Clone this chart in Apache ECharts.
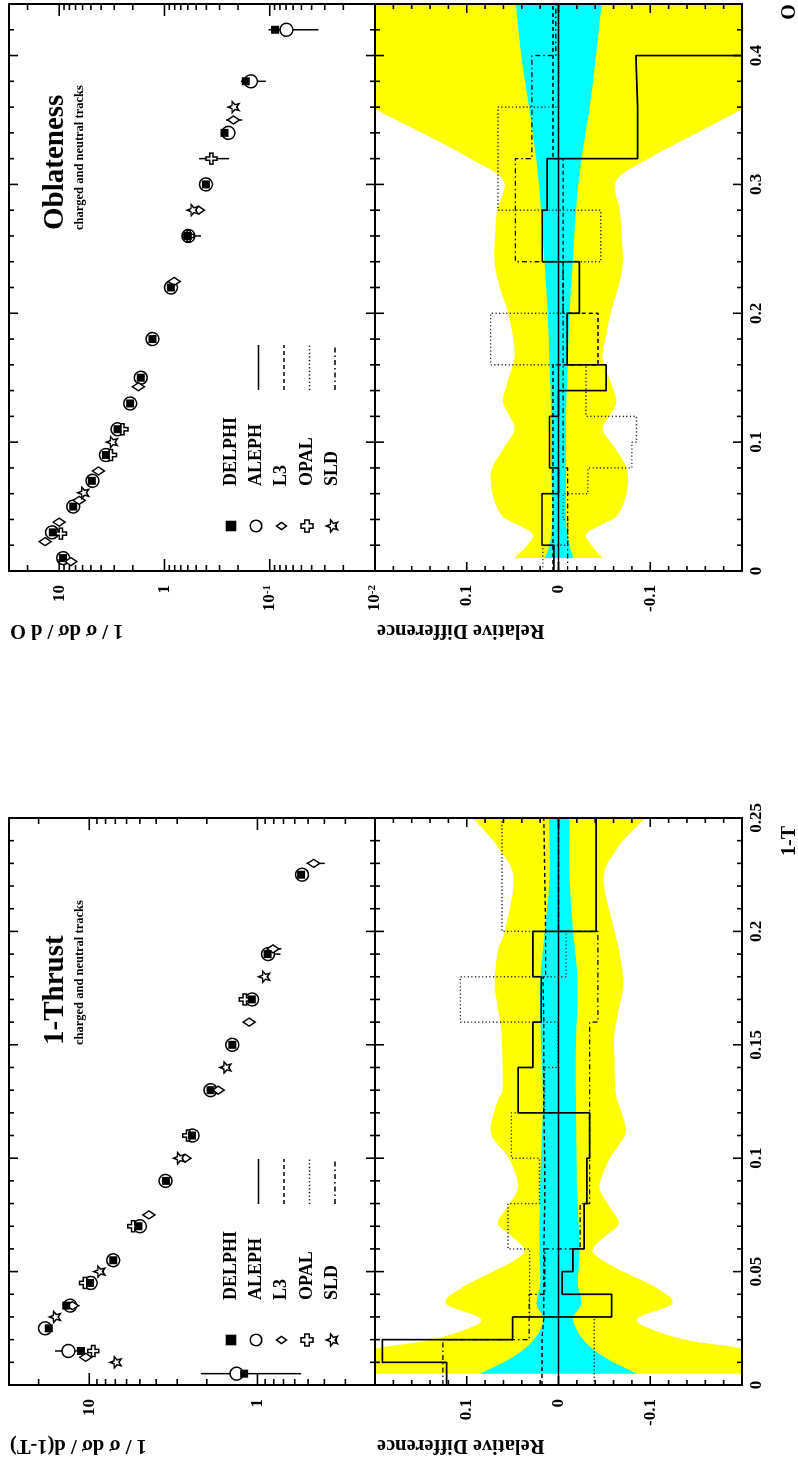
<!DOCTYPE html>
<html>
<head>
<meta charset="utf-8">
<script src="https://cdn.jsdelivr.net/npm/echarts@6/dist/echarts.min.js"></script>
<style>
  html, body { margin: 0; padding: 0; background: #fff; overflow: hidden; }
  #page { position: absolute; left: 0; top: 0; width: 798px; height: 1464px; overflow: hidden; background: #fff; }
  /* landscape figure, turned a quarter turn counter-clockwise onto the portrait page */
  #chart { position: absolute; left: 0; top: 0; width: 1464px; height: 798px;
           transform-origin: 0 0; transform: translate(0, 1464px) rotate(-90deg); }
</style>
</head>
<body>
<div id="page"><div id="chart"></div></div>
<script>
const FONT = '"Liberation Serif", "Times New Roman", serif';

// ---------------- 1-Thrust : 1/sigma dsigma/d(1-T) ----------------
const thrustDelphi = [[0.005,1.2],[0.015,11.2],[0.025,17.4],[0.035,13.7],[0.045,9.9],[0.055,7.2],[0.07,5.1],[0.09,3.5],[0.11,2.45],[0.13,1.9],[0.15,1.41],[0.17,1.08],[0.19,0.87],[0.225,0.55]];
const thrustAleph  = [[0.005,1.33],[0.015,13.3],[0.025,18.3],[0.035,13.0],[0.045,9.8],[0.055,7.2],[0.07,5.0],[0.09,3.52],[0.11,2.43],[0.13,1.9],[0.15,1.41],[0.17,1.076],[0.19,0.865],[0.225,0.543]];
const thrustL3     = [[0.0122,10.5],[0.035,12.6],[0.075,4.42],[0.1,2.7],[0.13,1.71],[0.16,1.12],[0.1923,0.808],[0.23,0.463]];
const thrustOpal   = [[0.015,9.47],[0.045,10.6],[0.07,5.48],[0.11,2.58],[0.17,1.19]];
const thrustSld    = [[0.01,6.97],[0.03,16.0],[0.05,8.72],[0.1,2.93],[0.14,1.55],[0.18,0.914]];
// [x, low, high]
const thrustErrors = [[0.005,0.55,2.17],[0.015,11.4,16.0],[0.035,11.4,14.3],[0.19,0.73,0.95],[0.1923,0.72,0.85],[0.23,0.398,0.512]];

// ---------------- Oblateness : 1/sigma dsigma/dO ----------------
const oblDelphi = [[0.01,9.2],[0.03,11.5],[0.05,7.36],[0.07,4.9],[0.09,3.6],[0.11,2.79],[0.13,2.12],[0.15,1.68],[0.18,1.30],[0.22,0.87],[0.26,0.60],[0.30,0.404],[0.34,0.269],[0.38,0.169],[0.42,0.089]];
const oblAleph  = [[0.01,9.16],[0.03,11.7],[0.05,7.36],[0.07,4.83],[0.09,3.6],[0.11,2.79],[0.13,2.12],[0.15,1.68],[0.18,1.30],[0.22,0.869],[0.26,0.592],[0.30,0.404],[0.34,0.247],[0.38,0.151],[0.42,0.0694]];
const oblL3     = [[0.0073,7.74],[0.0228,13.6],[0.0379,10.0],[0.0548,6.46],[0.0776,4.24],[0.143,1.77],[0.2247,0.809],[0.28,0.475],[0.35,0.221]];
const oblOpal   = [[0.029,9.64],[0.09,3.23],[0.11,2.51],[0.26,0.59],[0.32,0.358]];
const oblSld    = [[0.0607,5.92],[0.1,3.16],[0.28,0.542],[0.36,0.221]];
const oblErrors = [[0.26,0.45,0.65],[0.32,0.243,0.469],[0.35,0.182,0.261],[0.38,0.109,0.188],[0.42,0.0345,0.103]];

// ---------------- relative difference bands ----------------
const thrustBandX   = [0.005,0.010,0.0162,0.0198,0.0255,0.0297,0.036,0.043,0.0493,0.0545,0.0596,0.066,0.0713,0.079,0.0875,0.0993,0.106,0.1125,0.1257,0.130,0.143,0.155,0.166,0.1772,0.1919,0.200,0.2235,0.236,0.2434,0.250];
const thrustYellowHi = [0.30,0.26,0.198,0.14,0.095,0.086,0.123,0.105,0.075,0.05,0.037,0.052,0.066,0.055,0.044,0.053,0.066,0.074,0.066,0.061,0.061,0.062,0.066,0.0696,0.0659,0.0587,0.049,0.0641,0.0786,0.0931];
const thrustYellowLo = [-0.30,-0.26,-0.199,-0.14,-0.096,-0.087,-0.124,-0.106,-0.074,-0.05,-0.037,-0.052,-0.0656,-0.055,-0.0446,-0.055,-0.066,-0.0736,-0.064,-0.062,-0.061,-0.061,-0.066,-0.0707,-0.066,-0.061,-0.049,-0.063,-0.078,-0.0953];
const thrustCyanX  = [0.005,0.010,0.015,0.020,0.025,0.030,0.036,0.045,0.060,0.090,0.1257,0.150,0.1772,0.200,0.2235,0.250];
const thrustCyanHi = [0.086,0.060,0.040,0.027,0.019,0.017,0.024,0.020,0.0207,0.020,0.017,0.019,0.020,0.015,0.0098,0.0104];
const thrustCyanLo = [-0.086,-0.060,-0.040,-0.027,-0.019,-0.016,-0.025,-0.021,-0.023,-0.020,-0.019,-0.019,-0.0207,-0.016,-0.012,-0.012];

const oblBandX    = [0.01,0.02,0.0286,0.036,0.0432,0.06,0.0782,0.095,0.11,0.121,0.132,0.148,0.1657,0.183,0.2008,0.22,0.2387,0.26,0.2796,0.303,0.3204,0.3408,0.3583,0.38,0.44];
const oblYellowHi = [0.048,0.034,0.028,0.045,0.062,0.072,0.073,0.060,0.048,0.054,0.0605,0.055,0.048,0.050,0.055,0.064,0.0696,0.069,0.067,0.060,0.097,0.151,0.200,0.26,0.33];
const oblYellowLo = [-0.048,-0.036,-0.030,-0.047,-0.064,-0.074,-0.075,-0.062,-0.048,-0.056,-0.063,-0.056,-0.048,-0.052,-0.057,-0.065,-0.070,-0.069,-0.067,-0.063,-0.099,-0.153,-0.200,-0.26,-0.33];
const oblCyanX  = [0.01,0.02,0.04,0.08,0.12,0.16,0.20,0.24,0.28,0.32,0.36,0.40,0.44];
const oblCyanHi = [0.0152,0.0098,0.0069,0.008,0.008,0.0098,0.0116,0.0152,0.019,0.0243,0.0322,0.0406,0.0467];
const oblCyanLo = [-0.0163,-0.012,-0.0083,-0.0083,-0.0083,-0.0101,-0.012,-0.0156,-0.0192,-0.025,-0.034,-0.0409,-0.047];

// ---------------- relative difference histograms ----------------
const thrustEdges = [0,0.01,0.02,0.03,0.04,0.05,0.06,0.08,0.10,0.12,0.14,0.16,0.18,0.20,0.25];
const thrustAlephDiff = [0.122,0.192,0.050,-0.058,-0.004,-0.0156,-0.028,-0.031,-0.034,0.044,0.028,0.0188,0.028,-0.041];
const thrustL3Diff    = [0.018,0.018,0.016,0.016,0.016,0.016,0.015,0.015,0.016,0.016,0.016,0.017,0.014,0.016];
const thrustOpalDiff  = [-0.039,-0.039,-0.039,0.0315,0.0315,0.0315,0.055,0.0207,0.0514,0.0152,0.0007,0.107,-0.0083,0.0616];
const thrustSldDiff   = [0.126,0.126,0.032,0.032,0.015,0.015,-0.0236,-0.034,-0.034,-0.034,-0.034,-0.043,-0.043,0.0];

const oblEdges = [0,0.02,0.04,0.06,0.08,0.10,0.12,0.14,0.16,0.20,0.24,0.28,0.32,0.36,0.40,0.44];
const oblAlephDiff = [0.005,0.018,0.018,0.0,0.0098,0.0098,0.0,-0.052,-0.0094,-0.0228,0.0177,0.0123,-0.0862,-0.0844,-0.30];
const oblL3Diff    = [0.006,0.006,0.006,0.006,0.006,0.006,0.006,0.006,-0.043,-0.005,-0.005,-0.005,0.006,0.006,0.006];
const oblOpalDiff  = [0.017,-0.010,-0.005,-0.032,-0.080,-0.085,-0.030,-0.030,0.074,-0.005,-0.046,0.066,0.066,0.0,0.0];
const oblSldDiff   = [-0.010,-0.010,-0.010,-0.010,-0.005,-0.005,-0.005,-0.005,-0.005,-0.005,0.047,0.047,0.029,0.029,0.003];

// ---------------- axes ----------------
const thrustRange = [0, 0.25], thrustStep = 0.05, thrustMinor = 0.01;
const oblRange = [0, 0.44], oblStep = 0.1, oblMinor = 0.02;
const thrustLogRange = [0.2, 30];
const oblLogRange = [0.01, 30];
const ratioRange = [-0.2, 0.2], ratioStep = 0.1, ratioMinor = 0.02;
const legendNames = ['DELPHI', 'ALEPH', 'L3', 'OPAL', 'SLD'];

// ---------------- layout (landscape frame 1464 x 798) ----------------
const G = [
  { left: 79,  top: 9,   width: 567, height: 366 },   // 1-T spectrum
  { left: 79,  top: 375, width: 567, height: 367 },   // 1-T relative difference
  { left: 893, top: 9,   width: 567, height: 366 },   // O spectrum
  { left: 893, top: 375, width: 567, height: 367 }    // O relative difference
];

const labelStyle = { color: '#000', fontFamily: FONT, fontWeight: 'bold', fontSize: 17 };

function logLabel(v) {
  const l = Math.log10(v), e = Math.round(l);
  if (Math.abs(l - e) > 1e-6) return '';
  if (e === 0) return '1';
  if (e === 1) return '10';
  return '{b|10}{s|' + e + '}';
}

function xAxisDef(gi, range, step, showLabels) {
  return {
    gridIndex: gi, type: 'value', min: range[0], max: range[1], interval: step,
    axisLine: { show: false }, axisTick: { show: false }, splitLine: { show: false },
    axisLabel: Object.assign({ show: showLabels, margin: 6, showMinLabel: true,
      showMaxLabel: range[1] === 0.25 }, labelStyle)
  };
}
function logAxisDef(gi, range, showMin) {
  return {
    gridIndex: gi, type: 'log', logBase: 10, min: range[0], max: range[1],
    axisLine: { show: false }, axisTick: { show: false }, splitLine: { show: false },
    axisLabel: Object.assign({ margin: 14, formatter: logLabel, showMinLabel: showMin, showMaxLabel: false,
      rich: { b: { fontFamily: FONT, fontWeight: 'bold', fontSize: 17, color: '#000' },
              s: { fontFamily: FONT, fontWeight: 'bold', fontSize: 11, color: '#000', verticalAlign: 'top' } } }, labelStyle)
  };
}
function ratioAxisDef(gi) {
  return {
    gridIndex: gi, type: 'value', min: ratioRange[0], max: ratioRange[1], interval: ratioStep,
    axisLine: { show: false }, axisTick: { show: false }, splitLine: { show: false },
    axisLabel: Object.assign({ margin: 14, showMinLabel: false, showMaxLabel: false }, labelStyle)
  };
}

// ---------------- tick marks on all four sides of each panel ----------------
function linearTicks(range, minor, major) {
  const out = [];
  const n = Math.round((range[1] - range[0]) / minor);
  for (let i = 0; i <= n; i++) {
    const v = +(range[0] + i * minor).toFixed(6);
    const isMajor = Math.abs(v / major - Math.round(v / major)) < 1e-6;
    out.push([v, isMajor]);
  }
  return out;
}
function logTicks(range) {
  const out = [];
  for (let e = -3; e <= 2; e++) {
    for (let m = 1; m <= 9; m++) {
      const v = m * Math.pow(10, e);
      if (v > range[0] * 1.0001 && v < range[1] * 0.9999) out.push([v, m === 1]);
    }
  }
  return out;
}
function tickSeries(gi, xt, yt, xRef, yRef, xLen, yLen) {
  const data = [];
  xt.forEach(([v, maj]) => data.push([v, yRef, maj ? xLen[0] : xLen[1], 0]));
  yt.forEach(([v, maj]) => data.push([xRef, v, maj ? yLen[0] : yLen[1], 1]));
  return {
    type: 'custom', xAxisIndex: gi, yAxisIndex: gi, z: 20, silent: true, clip: false,
    data: data,
    renderItem: function (params, api) {
      const cs = params.coordSys;
      const len = api.value(2), kind = api.value(3);
      const st = { stroke: '#000', lineWidth: 1.6 };
      const p = api.coord([api.value(0), api.value(1)]);
      if (kind === 0) {
        const b = cs.y + cs.height, t = cs.y;
        return { type: 'group', children: [
          { type: 'line', shape: { x1: p[0], y1: b, x2: p[0], y2: b - len }, style: st },
          { type: 'line', shape: { x1: p[0], y1: t, x2: p[0], y2: t + len }, style: st } ] };
      }
      const l = cs.x, r = cs.x + cs.width;
      return { type: 'group', children: [
        { type: 'line', shape: { x1: l, y1: p[1], x2: l + len, y2: p[1] }, style: st },
        { type: 'line', shape: { x1: r, y1: p[1], x2: r - len, y2: p[1] }, style: st } ] };
    }
  };
}
function frameSeries(gi, ref) {
  return {
    type: 'custom', xAxisIndex: gi, yAxisIndex: gi, z: 21, silent: true, clip: false,
    data: [ref],
    renderItem: function (params) {
      const cs = params.coordSys;
      return { type: 'rect', shape: { x: cs.x, y: cs.y, width: cs.width, height: cs.height },
               style: { fill: 'none', stroke: '#000', lineWidth: 2 } };
    }
  };
}

// ---------------- spectra markers ----------------
const CROSS = 'path://M35,0H65V35H100V65H65V100H35V65H0V35H35Z';
const STAR = 'path://M50,0L62.9,32.2L97.6,34.5L70.9,56.8L79.4,90.5L50,72L20.6,90.5L29.1,56.8L2.4,34.5L37.1,32.2Z';
function markers(gi, name, data, symbol, size, filled, z) {
  return {
    type: 'scatter', name: name, xAxisIndex: gi, yAxisIndex: gi, data: data, z: z,
    symbol: symbol, symbolSize: size, silent: true,
    itemStyle: filled ? { color: '#000', borderWidth: 0, opacity: 1 }
                      : { color: '#fff', borderColor: '#000', borderWidth: 1.5, opacity: 1 }
  };
}
function errorBars(gi, data) {
  return {
    type: 'custom', xAxisIndex: gi, yAxisIndex: gi, z: 2, silent: true,
    encode: { x: 0, y: [1, 2] }, data: data,
    renderItem: function (params, api) {
      const a = api.coord([api.value(0), api.value(1)]);
      const b = api.coord([api.value(0), api.value(2)]);
      return { type: 'line', shape: { x1: a[0], y1: a[1], x2: b[0], y2: b[1] },
               style: { stroke: '#000', lineWidth: 1.5 } };
    }
  };
}
function spectrum(gi, sets, errs) {
  return [
    errorBars(gi, errs),
    markers(gi, 'ALEPH', sets[1], 'circle', 13, false, 3),
    markers(gi, 'L3', sets[2], 'diamond', [8, 12], false, 4),
    markers(gi, 'OPAL', sets[3], CROSS, 11, false, 4),
    markers(gi, 'SLD', sets[4], STAR, 11, false, 4),
    markers(gi, 'DELPHI', sets[0], 'rect', 8, true, 5)
  ];
}

// ---------------- bands (smooth outline through the measured edges) ----------------
function splineTo(p) {
  let s = '';
  for (let i = 0; i < p.length - 1; i++) {
    const p0 = p[Math.max(i - 1, 0)], p1 = p[i], p2 = p[i + 1], p3 = p[Math.min(i + 2, p.length - 1)];
    const c1x = p1[0] + (p2[0] - p0[0]) / 6, c1y = p1[1] + (p2[1] - p0[1]) / 6;
    const c2x = p2[0] - (p3[0] - p1[0]) / 6, c2y = p2[1] - (p3[1] - p1[1]) / 6;
    s += 'C' + c1x + ',' + c1y + ' ' + c2x + ',' + c2y + ' ' + p2[0] + ',' + p2[1];
  }
  return s;
}
function band(gi, xs, lo, hi, color, z) {
  return {
    type: 'custom', xAxisIndex: gi, yAxisIndex: gi, z: z, silent: true, clip: true,
    data: [[xs[0], 0]],
    renderItem: function (params, api) {
      const up = xs.map((x, i) => api.coord([x, hi[i]]));
      const dn = xs.map((x, i) => api.coord([x, lo[i]])).reverse();
      const d = 'M' + up[0][0] + ',' + up[0][1] + splineTo(up) +
                'L' + dn[0][0] + ',' + dn[0][1] + splineTo(dn) + 'Z';
      return { type: 'path', shape: { pathData: d }, style: { fill: color, stroke: null } };
    }
  };
}
function steps(gi, edges, vals, dash, width, color) {
  const d = vals.map((v, i) => [edges[i], v]);
  d.push([edges[edges.length - 1], vals[vals.length - 1]]);
  return { type: 'line', xAxisIndex: gi, yAxisIndex: gi, step: 'end', z: 6, silent: true,
    data: d, symbol: 'none', lineStyle: { color: color, width: width, type: dash } };
}
function zeroLine(gi, range) {
  return { type: 'line', xAxisIndex: gi, yAxisIndex: gi, z: 5, silent: true, symbol: 'none',
    data: [[range[0], 0], [range[1], 0]], lineStyle: { color: '#000', width: 1.3 } };
}
function ratioPanel(gi, bx, yl, yh, cx, cl, ch, edges, aleph, l3, opal, sld, range) {
  return [
    band(gi, bx, yl, yh, '#ffff00', 1),
    band(gi, cx, cl, ch, '#00ffff', 2),
    zeroLine(gi, range),
    steps(gi, edges, aleph, 'solid', 1.7, '#000'),
    steps(gi, edges, l3, [4, 3], 1.4, '#000'),
    steps(gi, edges, opal, [1.2, 2.4], 1.4, '#222'),
    steps(gi, edges, sld, [5, 3, 1.5, 3], 1.3, '#000')
  ];
}

// ---------------- texts, legend ----------------
function text(x, y, str, size, align, rot) {
  return { type: 'text', x: x, y: y, rotation: rot || 0, silent: true, z: 30,
    style: { text: str, font: 'bold ' + size + 'px ' + FONT, fill: '#000',
             align: align || 'left', verticalAlign: 'middle' } };
}
function legend(gl) {
  const rows = [231, 256, 281.5, 307, 332.5];
  const sx = gl + 45, els = [];
  const blk = { fill: '#000' }, open = { fill: '#fff', stroke: '#000', lineWidth: 1.5 };
  els.push({ type: 'rect', shape: { x: sx - 5.3, y: rows[0] - 5.3, width: 10.6, height: 10.6 }, style: blk });
  els.push({ type: 'circle', shape: { cx: sx, cy: rows[1], r: 5.8 }, style: open });
  els.push({ type: 'polygon', shape: { points: [[sx, rows[2] - 5], [sx + 3.6, rows[2]], [sx, rows[2] + 5], [sx - 3.6, rows[2]]] }, style: open });
  const c = rows[3], a = 2.2, b = 6;
  els.push({ type: 'polygon', shape: { points: [[sx - a, c - b], [sx + a, c - b], [sx + a, c - a], [sx + b, c - a], [sx + b, c + a], [sx + a, c + a], [sx + a, c + b], [sx - a, c + b], [sx - a, c + a], [sx - b, c + a], [sx - b, c - a], [sx - a, c - a]] }, style: open });
  const s = rows[4], star = [];
  for (let k = 0; k < 10; k++) {
    const ang = -Math.PI / 2 + k * Math.PI / 5, r = k % 2 ? 2.7 : 6.3;
    star.push([sx + r * Math.cos(ang), s + r * Math.sin(ang)]);
  }
  els.push({ type: 'polygon', shape: { points: star }, style: open });
  legendNames.forEach((n, i) => els.push(text(gl + 85, rows[i], n, 18, 'left')));
  const dashes = ['solid', [4, 3], [1.2, 2.4], [5, 3, 1.5, 3]];
  dashes.forEach((d, i) => els.push({ type: 'line', silent: true,
    shape: { x1: gl + 181, y1: rows[i + 1] + 2.5, x2: gl + 226, y2: rows[i + 1] + 2.5 },
    style: { stroke: '#000', lineWidth: i === 0 ? 1.7 : 1.4, lineDash: d === 'solid' ? null : d } }));
  return els.map(e => Object.assign({ z: 30, silent: true }, e));
}

const graphic = [].concat(
  [text(419, 56, '1-Thrust', 29, 'left'),
   text(419, 80, 'charged and neutral tracks', 12.5, 'left'),
   text(1234, 56, 'Oblateness', 29, 'left'),
   text(1234, 80, 'charged and neutral tracks', 12.5, 'left'),
   text(19, 10, '1 / σ dσ / d(1-T)', 20.5, 'right', Math.PI / 2),
   text(19, 377, 'Relative Difference', 20.5, 'right', Math.PI / 2),
   text(834, 10, '1 / σ dσ / d O', 20.5, 'right', Math.PI / 2),
   text(834, 377, 'Relative Difference', 20.5, 'right', Math.PI / 2),
   text(623, 790, '1-T', 20, 'center'),
   text(1452, 790, 'O', 20, 'center')],
  legend(79), legend(893)
);

const option = {
  animation: false,
  backgroundColor: '#fff',
  grid: G.map(g => Object.assign({ show: false, containLabel: false, outerBoundsMode: 'none' }, g)),
  xAxis: [
    xAxisDef(0, thrustRange, thrustStep, false),
    xAxisDef(1, thrustRange, thrustStep, true),
    xAxisDef(2, oblRange, oblStep, false),
    xAxisDef(3, oblRange, oblStep, true)
  ],
  yAxis: [
    logAxisDef(0, thrustLogRange, false),
    ratioAxisDef(1),
    logAxisDef(2, oblLogRange, true),
    ratioAxisDef(3)
  ],
  graphic: graphic,
  series: [].concat(
    spectrum(0, [thrustDelphi, thrustAleph, thrustL3, thrustOpal, thrustSld], thrustErrors),
    spectrum(2, [oblDelphi, oblAleph, oblL3, oblOpal, oblSld], oblErrors),
    ratioPanel(1, thrustBandX, thrustYellowLo, thrustYellowHi, thrustCyanX, thrustCyanLo, thrustCyanHi,
               thrustEdges, thrustAlephDiff, thrustL3Diff, thrustOpalDiff, thrustSldDiff, thrustRange),
    ratioPanel(3, oblBandX, oblYellowLo, oblYellowHi, oblCyanX, oblCyanLo, oblCyanHi,
               oblEdges, oblAlephDiff, oblL3Diff, oblOpalDiff, oblSldDiff, oblRange),
    [tickSeries(0, linearTicks(thrustRange, thrustMinor, thrustStep), logTicks(thrustLogRange), 0, 1, [9, 5], [12, 6]),
     tickSeries(1, linearTicks(thrustRange, thrustMinor, thrustStep), linearTicks(ratioRange, ratioMinor, ratioStep), 0, 0, [9, 5], [9, 5]),
     tickSeries(2, linearTicks(oblRange, oblMinor, oblStep), logTicks(oblLogRange), 0, 1, [9, 5], [12, 6]),
     tickSeries(3, linearTicks(oblRange, oblMinor, oblStep), linearTicks(ratioRange, ratioMinor, ratioStep), 0, 0, [9, 5], [9, 5]),
     frameSeries(0, [0, 1]), frameSeries(1, [0, 0]), frameSeries(2, [0, 1]), frameSeries(3, [0, 0])]
  )
};

const chart = echarts.init(document.getElementById('chart'), null, { renderer: 'canvas', width: 1464, height: 798 });
chart.setOption(option);
</script>
</body>
</html>
